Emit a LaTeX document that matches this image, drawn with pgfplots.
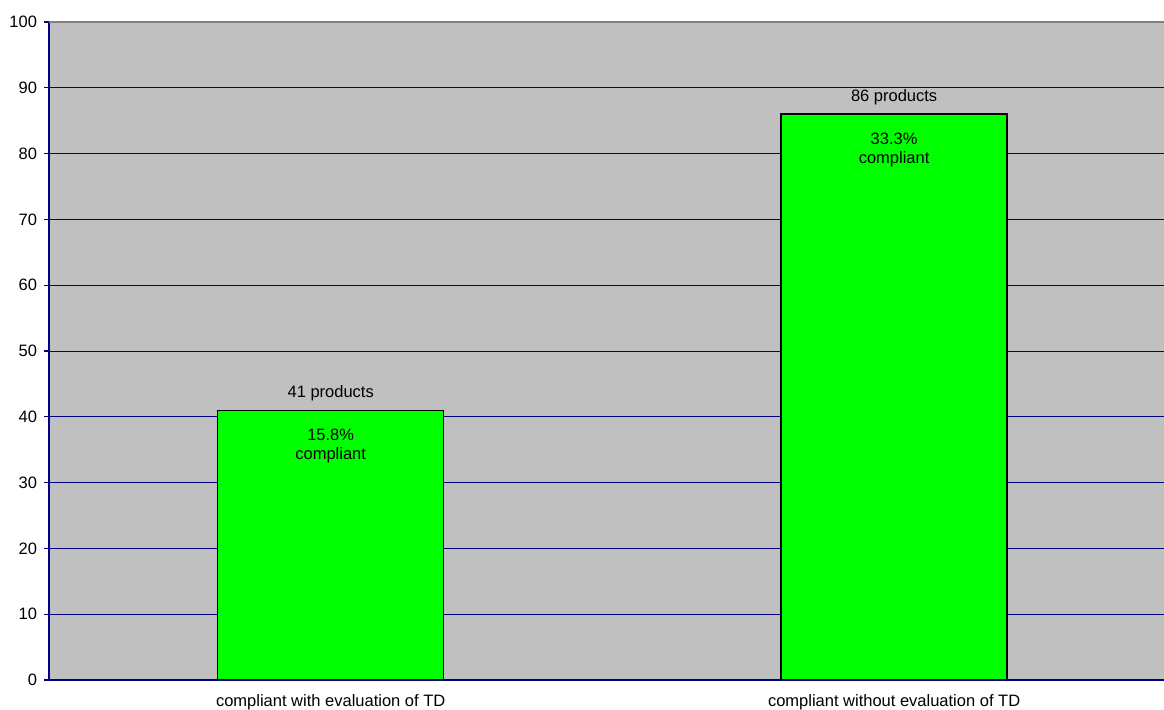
\documentclass[border=0pt]{standalone}
\usepackage{fontspec}
\setmainfont{Liberation Sans}
\usepackage{pgfplots}
\pgfplotsset{compat=1.18}
\definecolor{plotbg}{HTML}{C0C0C0}
\definecolor{gridnavy}{HTML}{000080}
\definecolor{bargreen}{HTML}{00FF00}
\definecolor{topgray}{HTML}{808080}
\begin{document}
\begin{tikzpicture}[font=\fontsize{8.25}{9.5}\selectfont]
\path[use as bounding box] (0,0) rectangle (582pt,354.5pt);
\begin{axis}[
  at={(24.5pt,14.5pt)}, anchor=south west,
  scale only axis,
  width=557.5pt, height=329pt,
  xmin=-0.5, xmax=1.479,
  ymin=0, ymax=100,
  ytick={0,10,...,100},
  xtick={0,1},
  xticklabels={compliant with evaluation of TD, compliant without evaluation of TD},
  x tick style={draw=none},
  extra x ticks={0.5},
  extra x tick labels={},
  extra x tick style={grid=none, tick style={draw=gridnavy, line width=0.6pt}},
  tick align=outside,
  major tick length=2.5pt,
  y tick style={draw=gridnavy, line width=0.6pt},
  ymajorgrids,
  grid style={draw=gridnavy, line width=0.5pt},
  axis line style={draw=none},
  axis background/.style={fill=plotbg},
  /pgf/number format/assume math mode=true,
  yticklabel style={xshift=0pt},
  xticklabel style={yshift=-1pt},
  ybar, bar width=113pt, bar shift=0pt,
  clip=false,
  after end axis/.code={
    \draw[gridnavy, line width=0.7pt] (rel axis cs:0,0) -- (rel axis cs:0,1);
    \draw[gridnavy, line width=0.7pt] (rel axis cs:0,0) -- (rel axis cs:1,0);
    \draw[topgray, line width=1.2pt] (rel axis cs:0,1) -- (rel axis cs:1,1);
  },
]
% number of products
\addplot[draw=black, line width=0.7pt, fill=bargreen,
  nodes near coords={\pgfmathprintnumber{\pgfplotspointmeta} products},
  nodes near coords style={anchor=south, text=black, yshift=1pt}]
  coordinates {(0,41) (1,86)};
% share compliant
\addplot[draw=none, fill=none, point meta=explicit symbolic,
  nodes near coords={\pgfplotspointmeta\%\\compliant},
  nodes near coords style={anchor=north, align=center, text=black, yshift=-6pt}]
  coordinates {(0,41) [15.8] (1,86) [33.3]};
\end{axis}
\end{tikzpicture}
\end{document}
